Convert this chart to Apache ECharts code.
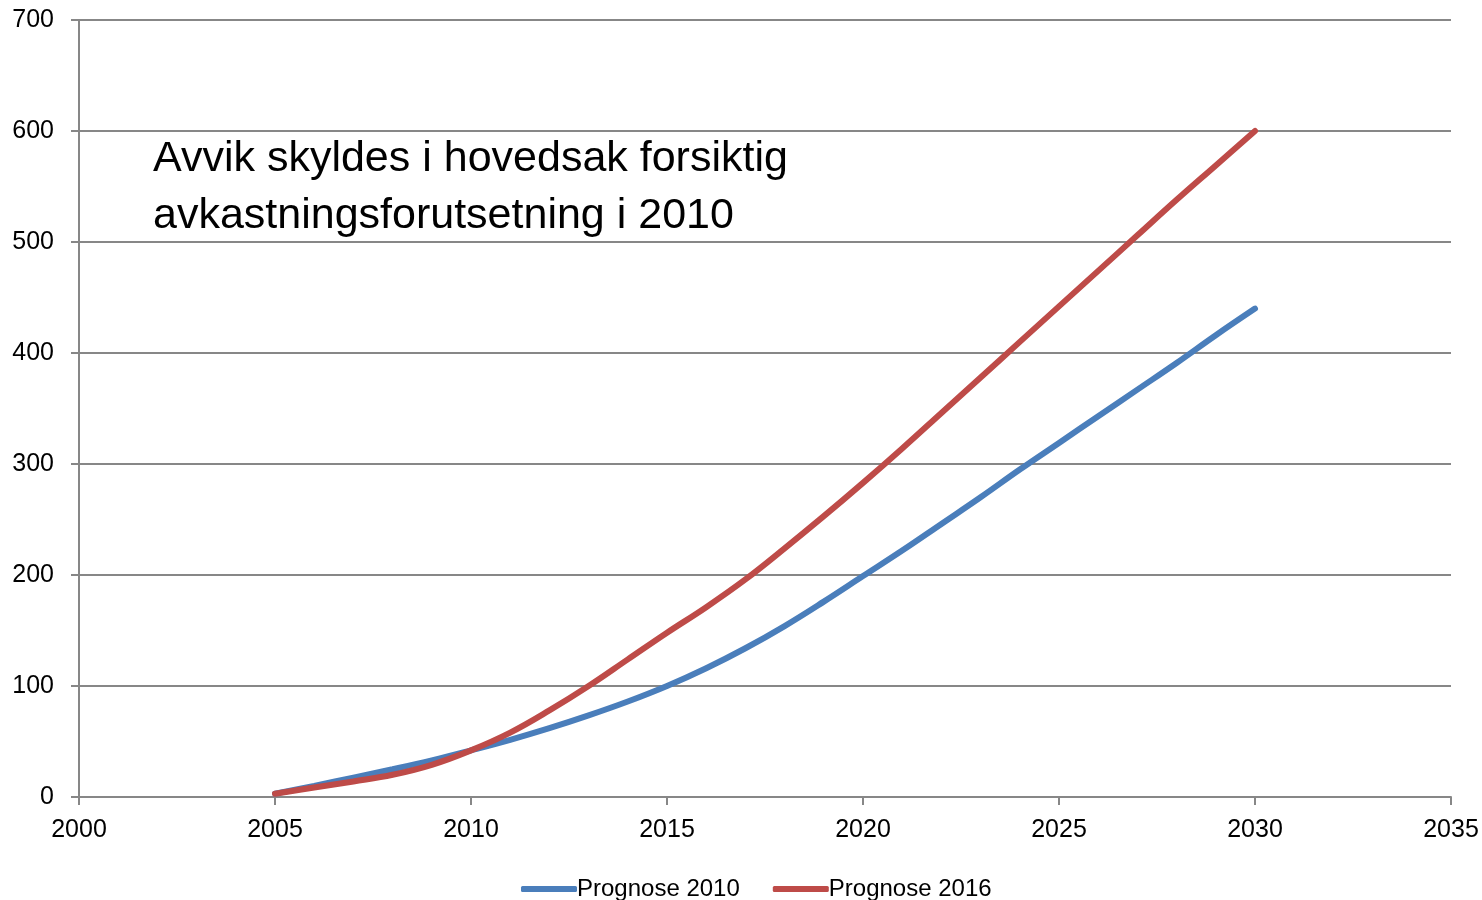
<!DOCTYPE html>
<html>
<head>
<meta charset="utf-8">
<script src="https://cdn.jsdelivr.net/npm/echarts@6/dist/echarts.min.js"></script>
<style>html,body{margin:0;padding:0;background:#fff}#c{width:1482px;height:900px}</style>
</head>
<body>
<div id="c"></div>
<script>
const years = [2005,2006,2007,2008,2009,2010,2011,2012,2013,2014,2015,2016,2017,2018,2019,2020,2021,2022,2023,2024,2025,2026,2027,2028,2029,2030];
const prognose2010 = [3,10,17.5,25,33,42,51.5,62,73.5,86,100,116,134,154,176,199,222,246,270,295,319,343,367,391,416,440];
const prognose2016 = [3,8.5,14,20,29,42,58,78,100,124,148,171,196,224,253,283,314,346,378,410,442,474,506,538,569,600];
const seriesNames = ['Prognose 2010','Prognose 2016'];
const annotation = 'Avvik skyldes i hovedsak forsiktig\navkastningsforutsetning i 2010';

const font = "'Liberation Sans', Arial, sans-serif";
const axisGray = '#878787';
const chart = echarts.init(document.getElementById('c'));
chart.setOption({
  animation: false,
  grid: {left: 79, right: 31, top: 20, bottom: 103},
  title: {
    text: annotation, left: 148, top: 126,
    textStyle: {fontFamily: font, fontSize: 43, fontWeight: 'normal', color: '#000', lineHeight: 57}
  },
  legend: {
    top: 872, left: 516, itemWidth: 56, itemHeight: 6, itemGap: 33,
    icon: 'roundRect',
    textStyle: {fontFamily: font, fontSize: 24, color: '#000', padding: [0,0,0,-5]},
    data: seriesNames
  },
  xAxis: {
    type: 'value', min: 2000, max: 2035, interval: 5,
    axisLine: {show: true, lineStyle: {color: axisGray, width: 2}},
    axisTick: {show: true, length: 8, lineStyle: {color: axisGray, width: 2}},
    axisLabel: {fontFamily: font, fontSize: 25, color: '#000', margin: 21, formatter: v => String(v)},
    splitLine: {show: false}
  },
  yAxis: {
    type: 'value', min: 0, max: 700, interval: 100,
    axisLine: {show: true, lineStyle: {color: axisGray, width: 2}},
    axisTick: {show: true, length: 8, lineStyle: {color: axisGray, width: 2}},
    axisLabel: {fontFamily: font, fontSize: 25, color: '#000', margin: 25},
    splitLine: {show: true, lineStyle: {color: axisGray, width: 2}}
  },
  series: [
    {name: seriesNames[0], type: 'line', smooth: 0.4, showSymbol: false,
     data: years.map((y,i)=>[y, prognose2010[i]]),
     itemStyle: {color: '#4a7ebb'}, lineStyle: {color: '#4a7ebb', width: 6, cap: 'round'}},
    {name: seriesNames[1], type: 'line', smooth: 0.4, showSymbol: false,
     data: years.map((y,i)=>[y, prognose2016[i]]),
     itemStyle: {color: '#be4b48'}, lineStyle: {color: '#be4b48', width: 6, cap: 'round'}}
  ]
});
</script>
</body>
</html>
